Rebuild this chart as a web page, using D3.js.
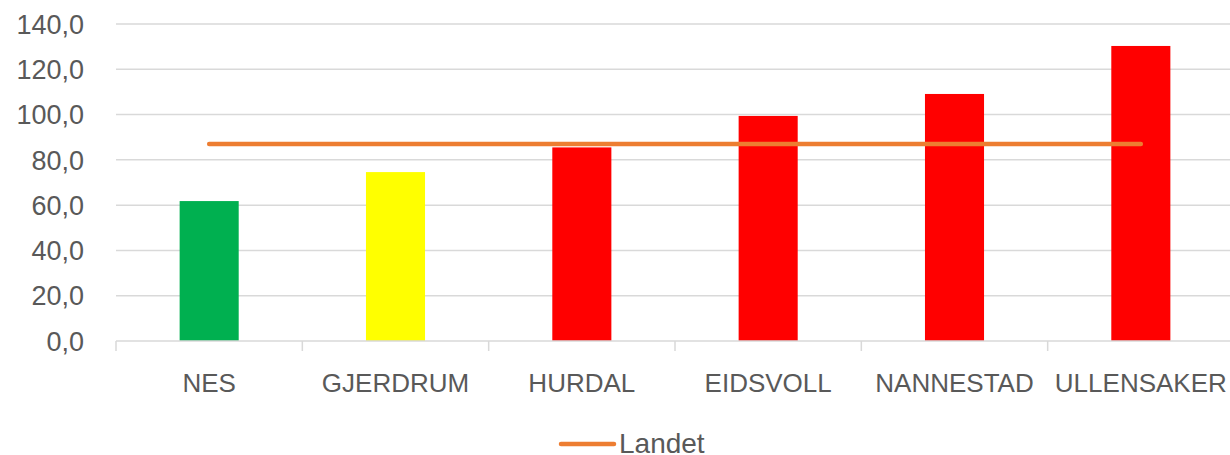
<html>
<head>
<meta charset="utf-8">
<script src="https://d3js.org/d3.v7.min.js"></script>
<style>
  body { margin: 0; background: #fff; }
  text { font-family: "Liberation Sans", Arial, sans-serif; fill: #595959; }
</style>
</head>
<body>
<svg width="1230" height="455"></svg>
<script>
// data
var kommuner = ["NES", "GJERDRUM", "HURDAL", "EIDSVOLL", "NANNESTAD", "ULLENSAKER"];
var verdier = [61.8, 74.6, 85.5, 99.4, 109.1, 130.3];
var barColors = ["#00B050", "#FFFF00", "#FF0000", "#FF0000", "#FF0000", "#FF0000"];
var landet = [87.0, 87.0, 87.0, 87.0, 87.0, 87.0];
var yTicks = [0, 20, 40, 60, 80, 100, 120, 140];

var svg = d3.select("svg");

var x = d3.scaleBand().domain(kommuner).range([116, 1234]).paddingInner(0).paddingOuter(0);
var y = d3.scaleLinear().domain([0, 140]).range([341, 24]);

var fmt = function(d) { return d3.format(".1f")(d).replace(".", ","); };

// gridlines
svg.append("g")
  .selectAll("line")
  .data(yTicks.filter(d => d > 0))
  .join("line")
    .attr("x1", 116)
    .attr("x2", 1234)
    .attr("y1", d => y(d))
    .attr("y2", d => y(d))
    .attr("stroke", "#d9d9d9")
    .attr("stroke-width", 1.5);

// y labels
svg.append("g")
  .selectAll("text")
  .data(yTicks)
  .join("text")
    .attr("x", 84)
    .attr("y", d => y(d))
    .attr("dy", "0.36em")
    .attr("text-anchor", "end")
    .attr("font-size", "27px")
    .text(fmt);

// bars
var bw = x.bandwidth() * 0.317;
svg.append("g")
  .selectAll("rect")
  .data(verdier)
  .join("rect")
    .attr("x", (d, i) => x(kommuner[i]) + x.bandwidth() / 2 - bw / 2)
    .attr("y", d => y(d))
    .attr("width", bw)
    .attr("height", d => y(0) - y(d))
    .attr("fill", (d, i) => barColors[i]);

// x axis line + ticks
var xAxis = svg.append("g");
xAxis.append("line")
  .attr("x1", 116).attr("x2", 1234)
  .attr("y1", y(0)).attr("y2", y(0))
  .attr("stroke", "#d9d9d9").attr("stroke-width", 1.5);
xAxis.selectAll(".tick")
  .data(kommuner)
  .join("line")
    .attr("class", "tick")
    .attr("x1", d => x(d)).attr("x2", d => x(d))
    .attr("y1", y(0)).attr("y2", y(0) + 10)
    .attr("stroke", "#d9d9d9").attr("stroke-width", 1.5);
xAxis.selectAll("text")
  .data(kommuner)
  .join("text")
    .attr("x", d => x(d) + x.bandwidth() / 2)
    .attr("y", 392)
    .attr("text-anchor", "middle")
    .attr("font-size", "26px")
    .text(d => d);

// Landet line
var line = d3.line()
  .x((d, i) => x(kommuner[i]) + x.bandwidth() / 2)
  .y(d => y(d));
svg.append("path")
  .datum(landet)
  .attr("d", line)
  .attr("fill", "none")
  .attr("stroke", "#ED7D31")
  .attr("stroke-width", 4.5)
  .attr("stroke-linecap", "round");

// legend
var legend = svg.append("g");
legend.append("line")
  .attr("x1", 561).attr("x2", 614)
  .attr("y1", 444).attr("y2", 444)
  .attr("stroke", "#ED7D31").attr("stroke-width", 4.5)
  .attr("stroke-linecap", "round");
legend.append("text")
  .attr("x", 619)
  .attr("y", 453)
  .attr("font-size", "28px")
  .text("Landet");
</script>
</body>
</html>
